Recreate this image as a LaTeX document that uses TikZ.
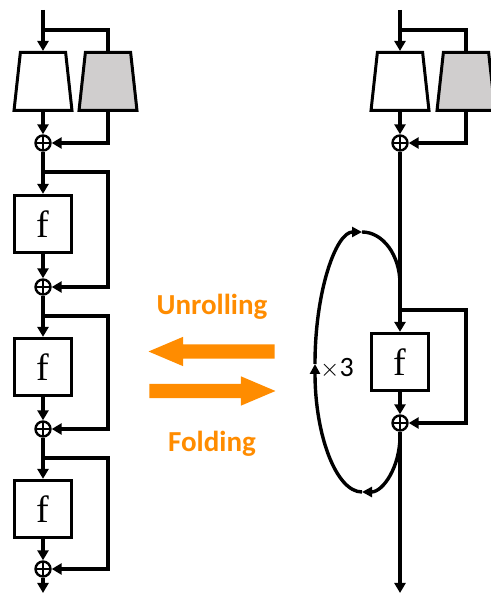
\documentclass[tikz,border=0pt]{standalone}
\usepackage{fontspec}
\usepackage{tikz}
\usetikzlibrary{arrows.meta, shapes.geometric, shapes.arrows}
\newfontfamily\calfont{Carlito}
\newfontfamily\serfont{Liberation Serif}
\definecolor{foldorange}{RGB}{255,140,0}
\definecolor{encgray}{RGB}{208,206,206}
\tikzstyle{trap}=[trapezium, draw, line width=3pt, fill=white,
  trapezium left angle=82, trapezium right angle=82,
  trapezium stretches=true, minimum width=58pt, minimum height=58pt,
  inner sep=4pt]
\tikzstyle{fbox}=[rectangle, draw, line width=3.2pt, minimum size=57pt,
  inner sep=0pt, font=\serfont\fontsize{38}{38}\selectfont]
\tikzstyle{addop}=[circle, draw, line width=2.4pt, minimum size=15pt,
  inner sep=0pt, path picture={\draw[line width=2.4pt]
    (path picture bounding box.north) -- (path picture bounding box.south)
    (path picture bounding box.west) -- (path picture bounding box.east);}]
\tikzstyle{flow}=[line width=3.4pt]
\tikzstyle{farr}=[flow, -{Triangle[length=10pt,width=11pt]}]
\tikzstyle{looparr}=[line width=3.4pt, -{Triangle[length=10pt,width=10pt]}]
\tikzstyle{bigarr}=[single arrow, fill=foldorange, inner sep=7pt,
  minimum height=126pt, single arrow head extend=7.5pt,
  single arrow tip angle=46]
\tikzstyle{orangetxt}=[font=\calfont\bfseries\fontsize{29}{29}\selectfont,
  text=foldorange, anchor=base]

\begin{document}
\begin{tikzpicture}[x=1pt, y=1pt]
  \useasboundingbox (0,0) rectangle (490,596);
  % unrolled network
  \coordinate (inL) at (43,586);
  \coordinate (splL) at (43,566);
  \node[trap] (encL) at (43,514.5) {};
  \node[trap, fill=encgray] (auxL) at (108,514.5) {};
  \node[addop] (add0) at (43,453) {};
  \draw[farr] (inL) -- (encL.north);
  \draw[flow] (splL) -| (auxL.north);
  \draw[farr] (encL.south) -- (add0.north);
  \draw[farr] (auxL.south) |- (add0.east);
  \foreach \i/\yf/\ya/\ys in {1/372/309/424, 2/229/167/280, 3/87/27/138} {
    \pgfmathtruncatemacro{\p}{\i-1}
    \node[fbox] (f\i) at (43,\yf) {f};
    \node[addop] (add\i) at (43,\ya) {};
    \coordinate (spl\i) at (43,\ys);
    \draw[farr] (add\p.south) -- (f\i.north);
    \draw[farr] (f\i.south) -- (add\i.north);
    \draw[farr] (spl\i) -- (spl\i -| auxL) |- (add\i.east);
  }
  \coordinate (outL) at (43,3);
  \draw[farr] (add3.south) -- (outL);

  % folded network
  \coordinate (inR) at (400,586);
  \coordinate (splR) at (400,566);
  \node[trap] (encR) at (400,514.5) {};
  \node[trap, fill=encgray] (auxR) at (466,514.5) {};
  \node[addop] (addR0) at (400,453) {};
  \node[fbox] (fR) at (400,234) {f};
  \node[addop] (addR1) at (400,173) {};
  \coordinate (splR1) at (400,286);
  \coordinate (outR) at (400,3);
  \draw[farr] (inR) -- (encR.north);
  \draw[flow] (splR) -| (auxR.north);
  \draw[farr] (encR.south) -- (addR0.north);
  \draw[farr] (auxR.south) |- (addR0.east);
  \draw[farr] (addR0.south) -- (fR.north);
  \draw[farr] (fR.south) -- (addR1.north);
  \draw[farr] (splR1) -- (splR1 -| auxR) |- (addR1.east);
  \draw[farr] (addR1.south) -- (outR);

  % recurrence loop
  \coordinate (lpA) at (400,160);
  \coordinate (lpB) at (362,104);
  \coordinate (lpC) at (315,232);
  \coordinate (lpD) at (362,364);
  \draw[looparr] (lpA) arc[start angle=0, end angle=-90,
    x radius=38, y radius=56];
  \draw[looparr] (lpB) arc[start angle=270, end angle=180,
    x radius=47, y radius=128];
  \draw[looparr] (lpC) arc[start angle=180, end angle=90,
    x radius=47, y radius=132];
  \draw[line width=3.4pt] (lpD) arc[start angle=90, end angle=0,
    x radius=38, y radius=52];
  \node[font=\fontsize{28}{28}\selectfont, anchor=west, inner sep=0pt]
    (times) at (320,228) {$\times$\calfont 3};

  % unrolling / folding
  \node[bigarr, shape border rotate=180] (unroll) at (220,244.5) {};
  \node[bigarr] (fold) at (204,205) {};
  \node[orangetxt] (unrolltxt) at (212,281) {Unrolling};
  \node[orangetxt] (foldtxt) at (212,144) {Folding};
\end{tikzpicture}
\end{document}
